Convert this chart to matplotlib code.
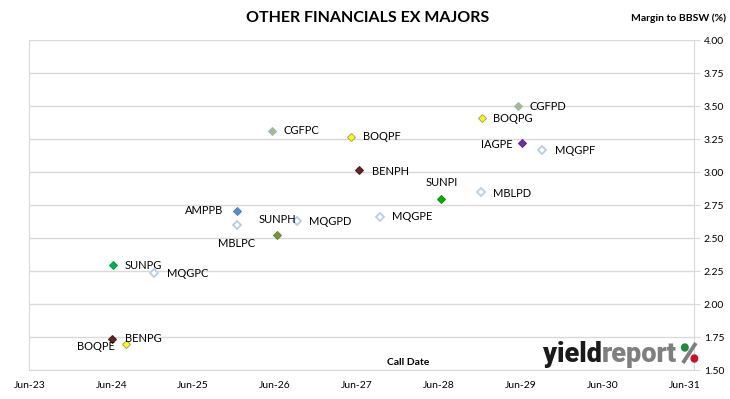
import matplotlib
matplotlib.use("Agg")
import matplotlib.pyplot as plt
import matplotlib.dates as mdates
from matplotlib.patches import Ellipse
from matplotlib.lines import Line2D
from datetime import date, timedelta

##########
#  DATA  #
##########

names = ["SUNPG", "BENPG", "BOQPE", "MQGPC", "AMPPB", "MBLPC", "CGFPC", "SUNPH",
         "MQGPD", "BOQPF", "BENPH", "MQGPE", "SUNPI", "MBLPD", "BOQPG", "CGFPD",
         "IAGPE", "MQGPF"]
call_dates = ["2024-07-06", "2024-07-05", "2024-09-03", "2025-01-07", "2026-01-10",
              "2026-01-10", "2026-06-18", "2026-07-10", "2026-10-04", "2027-06-04",
              "2027-07-07", "2027-10-10", "2028-07-11", "2029-01-01", "2029-01-08",
              "2029-06-15", "2029-07-06", "2029-10-03"]
margins = [2.295, 1.735, 1.697, 2.235, 2.71, 2.60, 3.315, 2.525,
           2.63, 3.27, 3.02, 2.665, 2.80, 2.85, 3.415, 3.50,
           3.22, 3.17]
tick_years = [2023, 2024, 2025, 2026, 2027, 2028, 2029, 2030, 2031]
y_ticks = [1.50, 1.75, 2.00, 2.25, 2.50, 2.75, 3.00, 3.25, 3.50, 3.75, 4.00]

##########
# STYLES #
##########

# issuer -> (face, edge)
ISSUER_STYLE = {
    "SUNPG": ("#00b050", "#00a04a"),
    "SUNPH": ("#77933c", "#6a8535"),
    "SUNPI": ("#00b000", "#009a00"),
    "BENPG": ("#632523", "#4a1a18"),
    "BENPH": ("#632523", "#4a1a18"),
    "BOQPE": ("#ffff00", "#a6a65a"),
    "BOQPF": ("#ffff00", "#a6a65a"),
    "BOQPG": ("#ffff00", "#a6a65a"),
    "AMPPB": ("#558ed5", "#4a7fc0"),
    "CGFPC": ("#b8b86a", "#8eb4e3"),
    "CGFPD": ("#b8b86a", "#8eb4e3"),
    "IAGPE": ("#7030a0", "#60288a"),
}
HOLLOW_EDGE = "#b9cde5"

# label offsets in pixels + alignment
LABEL_POS = {
    "SUNPG": (12, 0, "left"),
    "BENPG": (13, 1, "left"),
    "BOQPE": (-11, -2, "right"),
    "MQGPC": (13, 0, "left"),
    "AMPPB": (-14, 0, "right"),
    "MBLPC": (0, -18, "center"),
    "CGFPC": (11, 0, "left"),
    "SUNPH": (0, 16, "center"),
    "MQGPD": (12, 0, "left"),
    "BOQPF": (12, 0, "left"),
    "BENPH": (13, -2, "left"),
    "MQGPE": (12, 0, "left"),
    "SUNPI": (0, 16, "center"),
    "MBLPD": (12, -1, "left"),
    "BOQPG": (11, -1, "left"),
    "CGFPD": (12, 0, "left"),
    "IAGPE": (-10, -1, "right"),
    "MQGPF": (13, -1, "left"),
}

FONT = "Lato"
LOGO_FONT = "Roboto"
GRID = "#d9d9d9"

plt.rcParams["font.family"] = [FONT, "DejaVu Sans"]

fig = plt.figure(figsize=(7.3, 3.99), dpi=100)
ax = fig.add_axes([0.0401, 0.0719, 0.9106, 0.8271])

start = date(2023, 6, 30)
xs = [mdates.date2num(date.fromisoformat(d)) for d in call_dates]

for name, x, y in zip(names, xs, margins):
    if name in ISSUER_STYLE:
        face, edge = ISSUER_STYLE[name]
        ax.plot(x, y, marker="D", markersize=4.3, markerfacecolor=face,
                markeredgecolor=edge, markeredgewidth=0.7, linestyle="none", zorder=3)
    else:
        ax.plot(x, y, marker="D", markersize=4.0, markerfacecolor="white",
                markeredgecolor=HOLLOW_EDGE, markeredgewidth=1.3, linestyle="none", zorder=3)
    dx, dy, ha = LABEL_POS[name]
    ax.annotate(name, (x, y), xytext=(dx, dy), textcoords="offset pixels",
                ha=ha, va="center", fontsize=8, color="#000000", zorder=4)

# axes limits / ticks
ax.set_xlim(mdates.date2num(start), mdates.date2num(start + timedelta(days=int(8.116 * 365.25))))
ax.set_ylim(1.5, 4.0)
ax.set_xticks([mdates.date2num(date(yr, 6, 30)) for yr in tick_years])
ax.set_xticklabels([date(yr, 6, 30).strftime("%b-%y") for yr in tick_years])
ax.set_yticks(y_ticks)
ax.set_yticklabels(["%.2f" % v for v in y_ticks])

ax.yaxis.tick_right()
ax.tick_params(axis="y", direction="out", length=4, color=GRID, labelsize=7.5, pad=3)
ax.tick_params(axis="x", length=0, labelsize=7.5, pad=8)

ax.grid(axis="y", color=GRID, linewidth=1)
ax.set_axisbelow(True)
for side in ["left", "right", "bottom", "top"]:
    ax.spines[side].set_color(GRID)
ax.spines["top"].set_visible(False)

# titles
fig.text(0.503, 0.955, "OTHER FINANCIALS EX MAJORS", ha="center", va="center",
         fontsize=11.5, fontweight="bold")
fig.text(0.995, 0.955, "Margin to BBSW (%)", ha="right", va="center",
         fontsize=7.5, fontweight="bold")
ax.text(0.57, 0.025, "Call Date", transform=ax.transAxes, ha="center", va="center",
        fontsize=7.5, fontweight="bold")

# logo (yield + report + hand drawn % sign)
W, H = fig.bbox.width, fig.bbox.height
base_px = H - 362
t1 = fig.text(543 / W, base_px / H, "yield", ha="left", va="baseline", fontsize=19.5,
              fontweight="heavy", color="#1a1a1a", family=LOGO_FONT)
fig.canvas.draw()
x_end = t1.get_window_extent().x1
t2 = fig.text(x_end / W, base_px / H, "report", ha="left", va="baseline", fontsize=19.5,
              fontweight="heavy", color="#7f7f7f", family=LOGO_FONT)
fig.canvas.draw()
r_end = t2.get_window_extent().x1
fig.add_artist(Line2D([(r_end + 6) / W, (r_end + 19) / W],
                      [(base_px - 1) / H, (base_px + 19) / H],
                      color="#7f7f7f", linewidth=2.8, transform=fig.transFigure,
                      solid_capstyle="butt"))
for cx, cy, col in [(r_end + 8.0, base_px + 14.5, "#1e8a3c"),
                    (r_end + 17.5, base_px + 3.5, "#c8102e")]:
    fig.add_artist(Ellipse((cx / W, cy / H), 6.5 / W, 7.0 / H, color=col,
                           transform=fig.transFigure, zorder=5))

fig.savefig("out.png", dpi=100)
